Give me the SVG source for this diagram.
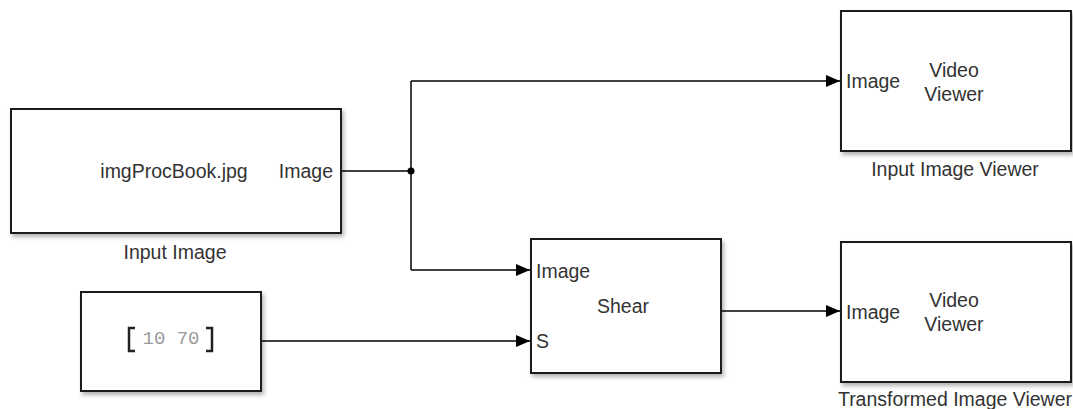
<svg xmlns="http://www.w3.org/2000/svg" width="1073" height="409" viewBox="0 0 1073 409">
<style>
.blk{fill:#fff;stroke:#1a1a1a;stroke-width:2;filter:url(#sh)}
.t{font-family:"Liberation Sans",Arial,sans-serif;font-size:19.5px;fill:#333}
.m{text-anchor:middle}
.w{fill:none;stroke:#000;stroke-width:1.5}
.num{font-family:"Liberation Mono","Courier New",monospace;font-size:19px;fill:#9a9a9a}
.br{fill:none;stroke:#222;stroke-width:2.5}
</style>
<defs>
<filter id="sh" x="-5%" y="-5%" width="115%" height="120%">
<feDropShadow dx="2" dy="3" stdDeviation="2" flood-color="#000" flood-opacity="0.3"/>
</filter>
<marker id="ar" markerWidth="16" markerHeight="16" refX="14" refY="7" orient="auto" markerUnits="userSpaceOnUse">
<path d="M0,1 L14,7 L0,13 Z" fill="#000"/>
</marker>
</defs>
<g id="connectors">
<path class="w" d="M341,171 H411"/>
<path class="w" d="M411,81 V270"/>
<path class="w" d="M411,81 H840" marker-end="url(#ar)"/>
<path class="w" d="M411,270 H530" marker-end="url(#ar)"/>
<path class="w" d="M261,341 H530" marker-end="url(#ar)"/>
<path class="w" d="M721,311 H840" marker-end="url(#ar)"/>
<circle cx="411" cy="171" r="3.5" fill="#000"/>
</g>
<g id="input-image">
<rect class="blk" x="11" y="109" width="330" height="124"/>
<text class="t m" x="174" y="178">imgProcBook.jpg</text>
<text class="t" x="333" y="178" text-anchor="end">Image</text>
<text class="t m" x="175" y="259">Input Image</text>
</g>
<g id="constant">
<rect class="blk" x="81" y="292" width="180" height="99"/>
<path class="br" d="M135,328 H129 V351 H135"/>
<text class="num m" x="171" y="344">10 70</text>
<path class="br" d="M206,328 H212 V351 H206"/>
</g>
<g id="shear">
<rect class="blk" x="531" y="239" width="190" height="134"/>
<text class="t" x="536" y="278">Image</text>
<text class="t" x="536" y="348">S</text>
<text class="t m" x="623" y="313">Shear</text>
</g>
<g id="input-image-viewer">
<rect class="blk" x="841" y="11" width="230" height="140"/>
<text class="t" x="846" y="88">Image</text>
<text class="t m" x="954" y="77">Video</text>
<text class="t m" x="954" y="101">Viewer</text>
<text class="t m" x="955" y="176">Input Image Viewer</text>
</g>
<g id="transformed-image-viewer">
<rect class="blk" x="841" y="242" width="230" height="140"/>
<text class="t" x="846" y="319">Image</text>
<text class="t m" x="954" y="307">Video</text>
<text class="t m" x="954" y="331">Viewer</text>
<text class="t m" x="955" y="406">Transformed Image Viewer</text>
</g>
</svg>
